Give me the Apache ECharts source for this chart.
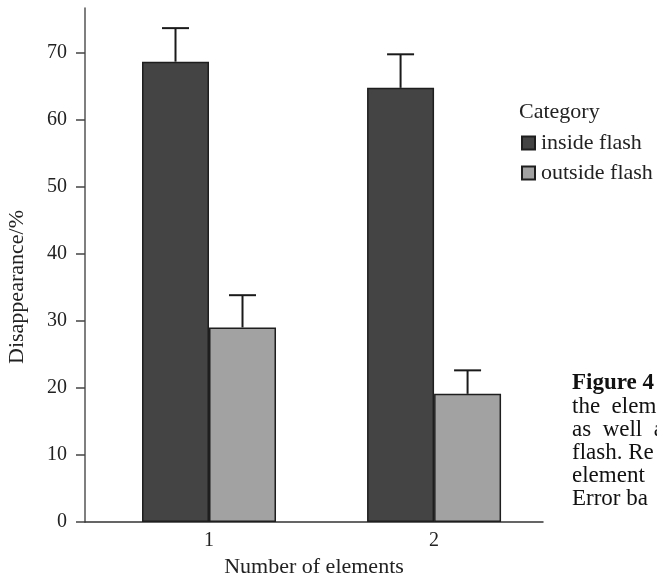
<!DOCTYPE html>
<html>
<head>
<meta charset="utf-8">
<script src="https://cdn.jsdelivr.net/npm/echarts@6/dist/echarts.min.js"></script>
<style>html,body{margin:0;padding:0;background:#fff;}#c{width:657px;height:574px;}</style>
</head>
<body>
<div id="c"></div>
<script>
const categories = [1, 2];
const categoryLabels = ['1', '2'];
const insideFlash = [68.6, 64.7];
const outsideFlash = [29.0, 19.1];
const insideErr = [5.0, 5.0];
const outsideErr = [4.8, 3.5];
const yTicks = [0, 10, 20, 30, 40, 50, 60, 70];
const seriesNames = ['inside flash', 'outside flash'];
const captionLines = ['Figure 4', 'the  elem', 'as  well  a', 'flash. Re', 'element', 'Error ba'];

const FONT = "'Liberation Serif', 'DejaVu Serif', serif";
const BAR_W = 67;
const CAP_W = 27;

function barData(vals) { return categories.map((c, i) => [c, vals[i]]); }
function errData(vals, errs) { return categories.map((c, i) => [c, vals[i], errs[i]]); }

function errRender(side) {
  return function (params, api) {
    const x = api.value(0), v = api.value(1), e = api.value(2);
    const base = api.coord([x, v]);
    const top = api.coord([x, v + e]);
    const cx = base[0] + side * BAR_W / 2;
    const style = { stroke: '#1a1a1a', lineWidth: 2 };
    return {
      type: 'group',
      children: [
        { type: 'line', shape: { x1: cx, y1: base[1], x2: cx, y2: top[1] }, style },
        { type: 'line', shape: { x1: cx - CAP_W / 2, y1: top[1], x2: cx + CAP_W / 2, y2: top[1] }, style }
      ]
    };
  };
}

const chart = echarts.init(document.getElementById('c'), null, { renderer: 'canvas' });
chart.setOption({
  animation: false,
  backgroundColor: '#fff',
  textStyle: { fontFamily: FONT },
  title: {
    text: 'Category', left: 519, top: 101, padding: 0,
    textStyle: { fontFamily: FONT, fontWeight: 'normal', fontSize: 22, color: '#222' }
  },
  legend: {
    data: seriesNames, orient: 'vertical', left: 521, top: 132, padding: 0,
    itemWidth: 13, itemHeight: 13, itemGap: 8, icon: 'rect',
    textStyle: { fontFamily: FONT, fontSize: 22, color: '#222', padding: [0, 0, 0, 1] }
  },
  grid: { left: 85, right: 114, top: 8, bottom: 52, containLabel: false, outerBoundsMode: 'none' },
  xAxis: {
    type: 'value', min: 0.449, max: 2.484,
    name: 'Number of elements', nameLocation: 'middle', nameGap: 25,
    nameTextStyle: { fontFamily: FONT, fontSize: 22, lineHeight: 18, color: '#222' },
    axisLine: { show: true, lineStyle: { color: '#333', width: 1.5 } },
    axisTick: { show: false },
    splitLine: { show: false },
    axisLabel: {
      customValues: categories, fontFamily: FONT, fontSize: 20, color: '#222', margin: 9,
      formatter: v => categoryLabels[categories.indexOf(v)]
    }
  },
  yAxis: {
    type: 'value', min: 0, max: 76.6,
    name: 'Disappearance/%', nameLocation: 'middle', nameGap: 57,
    nameTextStyle: { fontFamily: FONT, fontSize: 22, color: '#222', padding: [0, 44, 0, 0] },
    axisLine: { show: true, lineStyle: { color: '#555', width: 1.5 } },
    axisTick: { show: true, customValues: yTicks, length: 9, lineStyle: { color: '#444', width: 1.5 } },
    splitLine: { show: false },
    axisLabel: { customValues: yTicks, fontFamily: FONT, fontSize: 20, color: '#222', margin: 18 }
  },
  series: [
    {
      name: seriesNames[0], type: 'bar', data: barData(insideFlash), barWidth: BAR_W, barGap: '0%',
      itemStyle: { color: '#444444', borderColor: '#1e1e1e', borderWidth: 1.5 }
    },
    {
      name: seriesNames[1], type: 'bar', data: barData(outsideFlash), barWidth: BAR_W, barGap: '0%',
      itemStyle: { color: '#a2a2a2', borderColor: '#1e1e1e', borderWidth: 1.5 }
    },
    { type: 'custom', coordinateSystem: 'cartesian2d', data: errData(insideFlash, insideErr), renderItem: errRender(-1), z: 3 },
    { type: 'custom', coordinateSystem: 'cartesian2d', data: errData(outsideFlash, outsideErr), renderItem: errRender(1), z: 3 }
  ],
  graphic: [{
    type: 'text', left: 572, top: 372,
    style: {
      text: '{b|' + captionLines[0] + '}\n' + captionLines.slice(1).join('\n'),
      fontFamily: FONT, fontSize: 23, lineHeight: 23, fill: '#111',
      rich: { b: { fontFamily: FONT, fontSize: 23, lineHeight: 23, fontWeight: 'bold', fill: '#111' } }
    }
  }]
});
</script>
</body>
</html>
